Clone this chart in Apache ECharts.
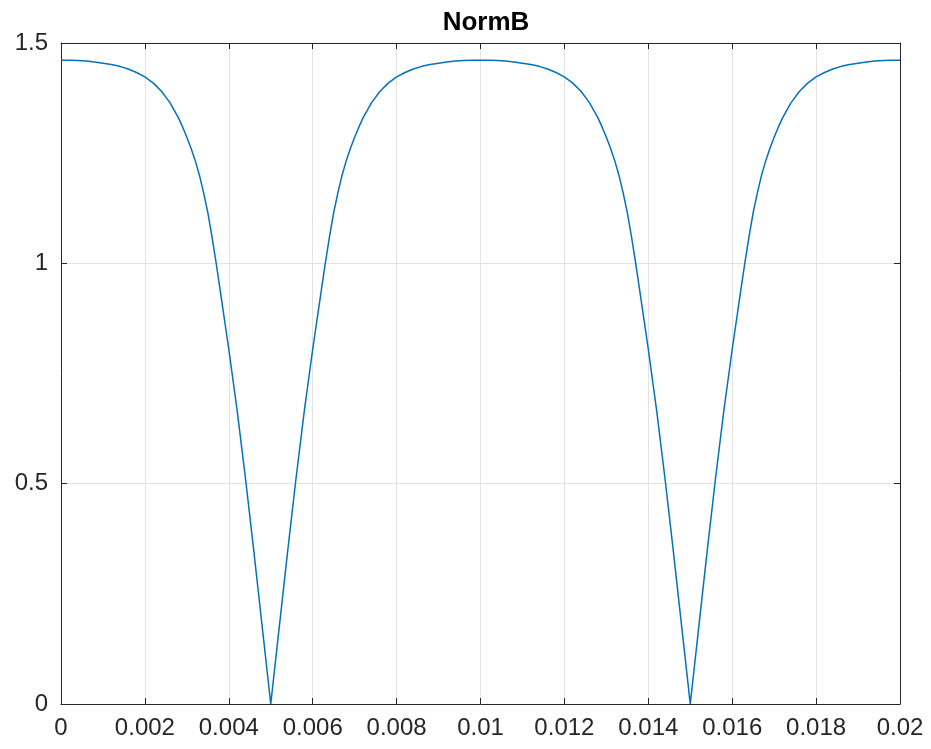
<!DOCTYPE html>
<html>
<head>
<meta charset="utf-8">
<script src="https://cdn.jsdelivr.net/npm/echarts@6/dist/echarts.min.js"></script>
<style>
  html, body { margin: 0; padding: 0; background: #fff; }
  #chart_container { width: 931px; height: 749px; }
</style>
</head>
<body>
<div id="chart_container"></div>
<script>
// sample times (s); denser around the knees of each dip
const times = [
  0, 0.0002, 0.0004, 0.0006, 0.0008, 0.001, 0.0012, 0.0014, 0.0016, 0.0018,
  0.002, 0.0022, 0.0024, 0.0026, 0.0028, 0.0029, 0.003, 0.0031, 0.0032, 0.0033,
  0.0034, 0.0035, 0.0036, 0.0037, 0.0038, 0.004, 0.0042, 0.0044, 0.0046, 0.0048,
  0.005,
  0.0052, 0.0054, 0.0056, 0.0058, 0.006, 0.0062, 0.0063, 0.0064, 0.0065, 0.0066,
  0.0067, 0.0068, 0.0069, 0.007, 0.0071, 0.0072, 0.0074, 0.0076, 0.0078, 0.008,
  0.0082, 0.0084, 0.0086, 0.0088, 0.009, 0.0092, 0.0094, 0.0096, 0.0098, 0.01,
  0.0102, 0.0104, 0.0106, 0.0108, 0.011, 0.0112, 0.0114, 0.0116, 0.0118,
  0.012, 0.0122, 0.0124, 0.0126, 0.0128, 0.0129, 0.013, 0.0131, 0.0132, 0.0133,
  0.0134, 0.0135, 0.0136, 0.0137, 0.0138, 0.014, 0.0142, 0.0144, 0.0146, 0.0148,
  0.015,
  0.0152, 0.0154, 0.0156, 0.0158, 0.016, 0.0162, 0.0163, 0.0164, 0.0165, 0.0166,
  0.0167, 0.0168, 0.0169, 0.017, 0.0171, 0.0172, 0.0174, 0.0176, 0.0178, 0.018,
  0.0182, 0.0184, 0.0186, 0.0188, 0.019, 0.0192, 0.0194, 0.0196, 0.0198, 0.02
];

// |B|, one value per time above
const normB = [
  1.461, 1.461, 1.4605, 1.459, 1.457, 1.454, 1.451, 1.447, 1.441, 1.433,
  1.423, 1.409, 1.39, 1.364, 1.33, 1.309, 1.286, 1.261, 1.233, 1.2,
  1.16, 1.115, 1.06, 1.0, 0.935, 0.805, 0.665, 0.51, 0.344, 0.172,
  0,
  0.172, 0.344, 0.51, 0.665, 0.805, 0.935, 1.0, 1.06, 1.115, 1.16,
  1.2, 1.233, 1.261, 1.286, 1.309, 1.33, 1.364, 1.39, 1.409, 1.423,
  1.433, 1.441, 1.447, 1.451, 1.454, 1.457, 1.459, 1.4605, 1.461, 1.461,
  1.461, 1.4605, 1.459, 1.457, 1.454, 1.451, 1.447, 1.441, 1.433,
  1.423, 1.409, 1.39, 1.364, 1.33, 1.309, 1.286, 1.261, 1.233, 1.2,
  1.16, 1.115, 1.06, 1.0, 0.935, 0.805, 0.665, 0.51, 0.344, 0.172,
  0,
  0.172, 0.344, 0.51, 0.665, 0.805, 0.935, 1.0, 1.06, 1.115, 1.16,
  1.2, 1.233, 1.261, 1.286, 1.309, 1.33, 1.364, 1.39, 1.409, 1.423,
  1.433, 1.441, 1.447, 1.451, 1.454, 1.457, 1.459, 1.4605, 1.461, 1.461
];

const xTickLabels = ['0', '0.002', '0.004', '0.006', '0.008', '0.01', '0.012', '0.014', '0.016', '0.018', '0.02'];
const yTickLabels = ['0', '0.5', '1', '1.5'];

const axisColor = '#262626';
const fontFam = '"Liberation Sans", Arial, Helvetica, sans-serif';

document.addEventListener('DOMContentLoaded', function () {
    let chart_container = document.getElementById('chart_container');
    var chart = echarts.init(chart_container, null, { renderer: 'canvas' });

    let pts = times.map((t, i) => [t, normB[i]]);

    // box-style axes: bottom/left carry labels, top/right only lines + ticks
    let boxLine = { show: true, onZero: false, lineStyle: { color: axisColor, width: 1 } };
    let inTicks = { show: true, inside: true, length: 6, lineStyle: { color: axisColor, width: 1 } };

    var option = {
        animation: false,
        backgroundColor: '#ffffff',
        title: {
            text: 'NormB',
            left: 481,
            textAlign: 'center',
            top: 5,
            textStyle: { fontFamily: fontFam, fontSize: 26, fontWeight: 'bold', color: '#000000' }
        },
        grid: { left: 61, right: 31, top: 43, bottom: 45 },
        xAxis: [
            {
                type: 'value', min: 0, max: 0.02, interval: 0.002, position: 'bottom',
                axisLine: boxLine, axisTick: inTicks,
                axisLabel: {
                    margin: 12, color: axisColor, fontFamily: fontFam, fontSize: 24,
                    formatter: (v) => xTickLabels[Math.round(v / 0.002)]
                },
                splitLine: { show: true, lineStyle: { color: '#e3e3e3', width: 1 } }
            },
            {
                type: 'value', min: 0, max: 0.02, interval: 0.002, position: 'top',
                axisLine: boxLine, axisTick: inTicks,
                axisLabel: { show: false }, splitLine: { show: false }
            }
        ],
        yAxis: [
            {
                type: 'value', min: 0, max: 1.5, interval: 0.5, position: 'left',
                axisLine: boxLine, axisTick: inTicks,
                axisLabel: {
                    margin: 13, color: axisColor, fontFamily: fontFam, fontSize: 24,
                    formatter: (v) => yTickLabels[Math.round(v / 0.5)]
                },
                splitLine: { show: true, lineStyle: { color: '#e3e3e3', width: 1 } }
            },
            {
                type: 'value', min: 0, max: 1.5, interval: 0.5, position: 'right',
                axisLine: boxLine, axisTick: inTicks,
                axisLabel: { show: false }, splitLine: { show: false }
            }
        ],
        series: [
            {
                name: 'NormB',
                type: 'line',
                data: pts,
                xAxisIndex: 0,
                yAxisIndex: 0,
                showSymbol: false,
                smooth: false,
                lineStyle: { color: '#0072BD', width: 1.5 }
            }
        ]
    };

    if (chart) {
        chart.setOption(option);
    } else {
        console.error('Echart instance failed to init');
    }
});
</script>
</body>
</html>
